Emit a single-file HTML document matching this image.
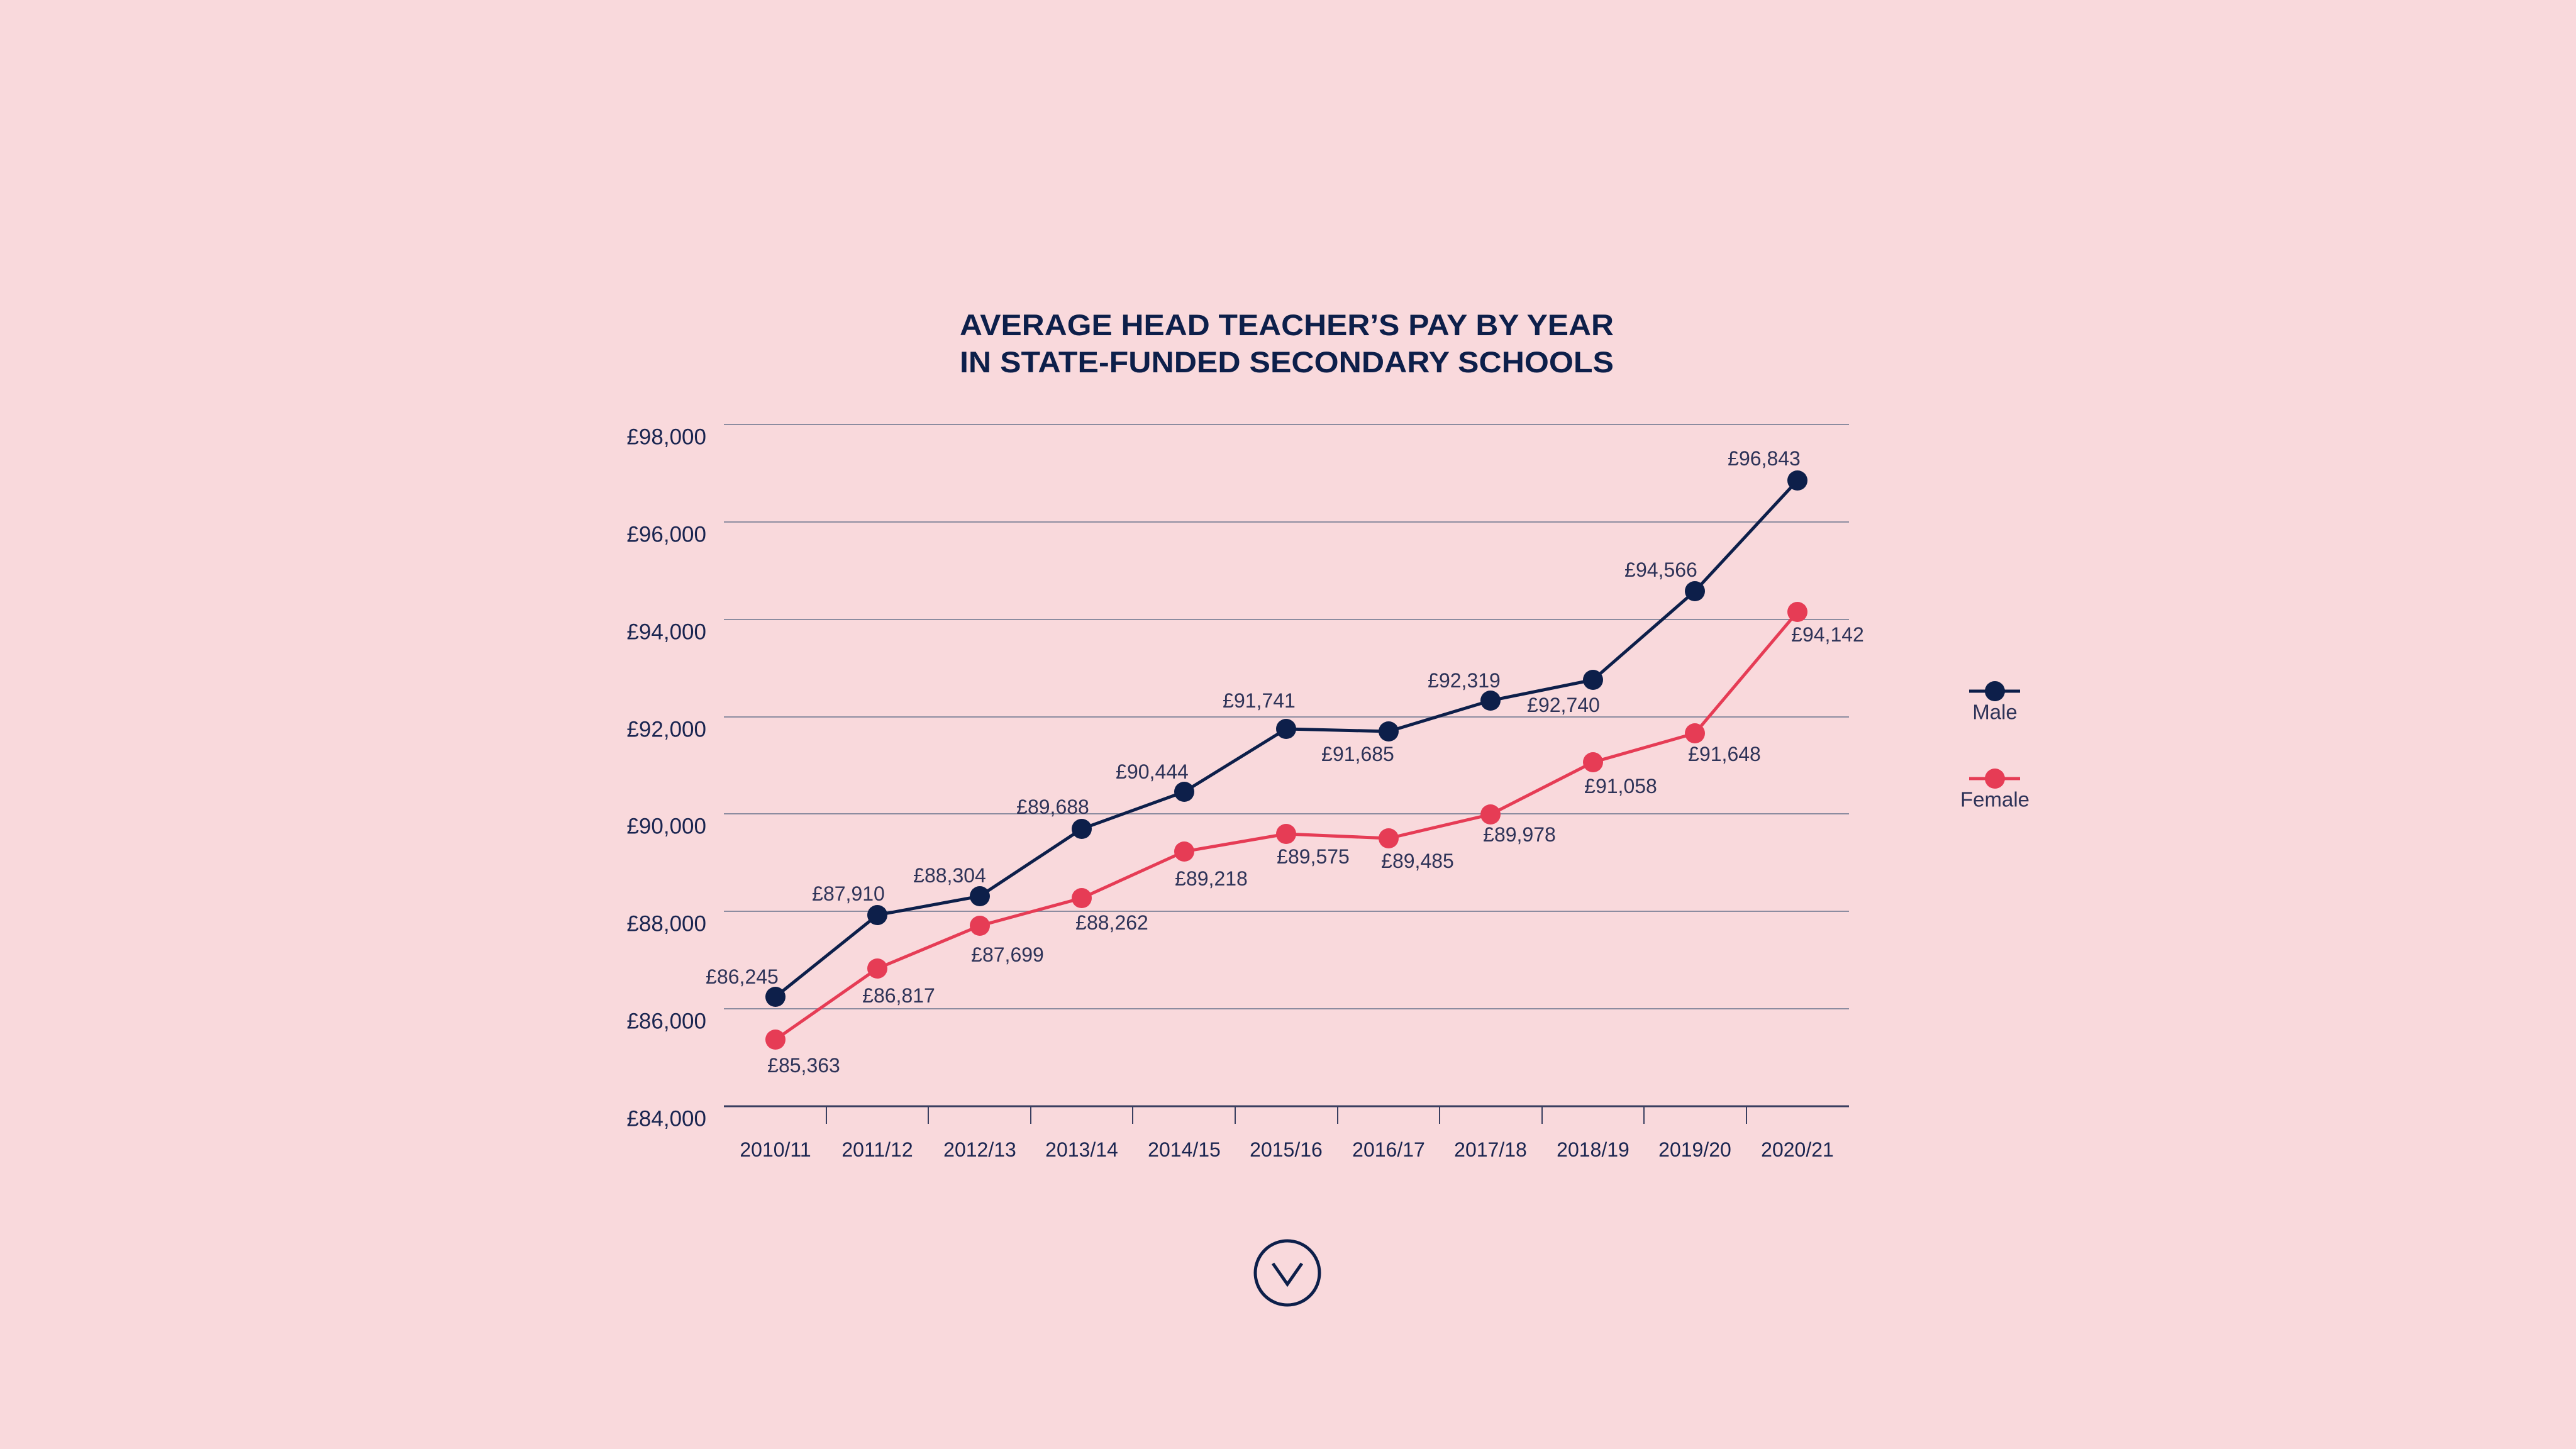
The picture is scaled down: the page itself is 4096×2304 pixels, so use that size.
<!DOCTYPE html>
<html><head><meta charset="utf-8"><style>
html,body{margin:0;padding:0;background:#f9d9dc;}
svg{display:block;}
text{font-family:"Liberation Sans",sans-serif;}
</style></head><body>
<svg width="4096" height="2304" viewBox="0 0 4096 2304" xmlns="http://www.w3.org/2000/svg">
<rect width="4096" height="2304" fill="#f9d9dc"/>
<g fill="#0d1f4a" font-weight="bold" font-size="47" text-anchor="middle">
<text x="2046" y="533" textLength="1040" lengthAdjust="spacingAndGlyphs">AVERAGE HEAD TEACHER’S PAY BY YEAR</text>
<text x="2046" y="592" textLength="1040" lengthAdjust="spacingAndGlyphs">IN STATE-FUNDED SECONDARY SCHOOLS</text>
</g>
<g stroke="#8c8ca0" stroke-width="2">
<line x1="1151" x2="2940" y1="675" y2="675"/>
<line x1="1151" x2="2940" y1="830" y2="830"/>
<line x1="1151" x2="2940" y1="985" y2="985"/>
<line x1="1151" x2="2940" y1="1140" y2="1140"/>
<line x1="1151" x2="2940" y1="1294" y2="1294"/>
<line x1="1151" x2="2940" y1="1449" y2="1449"/>
<line x1="1151" x2="2940" y1="1604" y2="1604"/>
</g>
<line x1="1151" x2="2940" y1="1759" y2="1759" stroke="#3a3f60" stroke-width="3"/>
<g stroke="#3a3f60" stroke-width="2">
<line x1="1314" x2="1314" y1="1759" y2="1787"/><line x1="1476" x2="1476" y1="1759" y2="1787"/>
<line x1="1639" x2="1639" y1="1759" y2="1787"/><line x1="1801" x2="1801" y1="1759" y2="1787"/>
<line x1="1964" x2="1964" y1="1759" y2="1787"/><line x1="2127" x2="2127" y1="1759" y2="1787"/>
<line x1="2289" x2="2289" y1="1759" y2="1787"/><line x1="2452" x2="2452" y1="1759" y2="1787"/>
<line x1="2614" x2="2614" y1="1759" y2="1787"/><line x1="2777" x2="2777" y1="1759" y2="1787"/>
</g>
<g fill="#1a2550" font-size="35" text-anchor="end" dominant-baseline="central">
<text x="1123" y="695">£98,000</text><text x="1123" y="850">£96,000</text>
<text x="1123" y="1005">£94,000</text><text x="1123" y="1160">£92,000</text>
<text x="1123" y="1314">£90,000</text><text x="1123" y="1469">£88,000</text>
<text x="1123" y="1624">£86,000</text><text x="1123" y="1779">£84,000</text>
</g>
<g fill="#1a2550" font-size="32" text-anchor="middle" dominant-baseline="central">
<text x="1233" y="1828">2010/11</text><text x="1395" y="1828">2011/12</text>
<text x="1558" y="1828">2012/13</text><text x="1720" y="1828">2013/14</text>
<text x="1883" y="1828">2014/15</text><text x="2045" y="1828">2015/16</text>
<text x="2208" y="1828">2016/17</text><text x="2370" y="1828">2017/18</text>
<text x="2533" y="1828">2018/19</text><text x="2695" y="1828">2019/20</text>
<text x="2858" y="1828">2020/21</text>
</g>
<polyline fill="none" stroke="#e63c55" stroke-width="5" points="1233,1653 1395,1540 1558,1472 1720,1428 1883,1354 2045,1326 2208,1333 2370,1295 2533,1212 2695,1166 2858,973"/>
<g fill="#e63c55">
<circle cx="1233" cy="1653" r="16"/><circle cx="1395" cy="1540" r="16"/><circle cx="1558" cy="1472" r="16"/>
<circle cx="1720" cy="1428" r="16"/><circle cx="1883" cy="1354" r="16"/><circle cx="2045" cy="1326" r="16"/>
<circle cx="2208" cy="1333" r="16"/><circle cx="2370" cy="1295" r="16"/><circle cx="2533" cy="1212" r="16"/>
<circle cx="2695" cy="1166" r="16"/><circle cx="2858" cy="973" r="16"/>
</g>
<polyline fill="none" stroke="#0d1f4a" stroke-width="5" points="1233,1585 1395,1455 1558,1425 1720,1318 1883,1259 2045,1159 2208,1163 2370,1114 2533,1081 2695,940 2858,764"/>
<g fill="#0d1f4a">
<circle cx="1233" cy="1585" r="16"/><circle cx="1395" cy="1455" r="16"/><circle cx="1558" cy="1425" r="16"/>
<circle cx="1720" cy="1318" r="16"/><circle cx="1883" cy="1259" r="16"/><circle cx="2045" cy="1159" r="16"/>
<circle cx="2208" cy="1163" r="16"/><circle cx="2370" cy="1114" r="16"/><circle cx="2533" cy="1081" r="16"/>
<circle cx="2695" cy="940" r="16"/><circle cx="2858" cy="764" r="16"/>
</g>
<g fill="#2e3358" font-size="32" text-anchor="middle" dominant-baseline="central">
<text x="1180" y="1553">£86,245</text><text x="1349" y="1421">£87,910</text>
<text x="1510" y="1392">£88,304</text><text x="1674" y="1283">£89,688</text>
<text x="1832" y="1227">£90,444</text><text x="2002" y="1114">£91,741</text>
<text x="2159" y="1199">£91,685</text><text x="2328" y="1082">£92,319</text>
<text x="2486" y="1121">£92,740</text><text x="2641" y="906">£94,566</text>
<text x="2805" y="729">£96,843</text>
<text x="1278" y="1694">£85,363</text><text x="1429" y="1583">£86,817</text>
<text x="1602" y="1518">£87,699</text><text x="1768" y="1467">£88,262</text>
<text x="1926" y="1397">£89,218</text><text x="2088" y="1362">£89,575</text>
<text x="2254" y="1369">£89,485</text><text x="2416" y="1327">£89,978</text>
<text x="2577" y="1250">£91,058</text><text x="2742" y="1199">£91,648</text>
<text x="2906" y="1009">£94,142</text>
</g>
<line x1="3131" x2="3212" y1="1099" y2="1099" stroke="#0d1f4a" stroke-width="5"/>
<circle cx="3172" cy="1099" r="16" fill="#0d1f4a"/>
<line x1="3131" x2="3212" y1="1238" y2="1238" stroke="#e63c55" stroke-width="5"/>
<circle cx="3172" cy="1238" r="16" fill="#e63c55"/>
<g fill="#2e3358" font-size="33" text-anchor="middle" dominant-baseline="central">
<text x="3172" y="1132">Male</text><text x="3172" y="1271">Female</text>
</g>
<circle cx="2047" cy="2024" r="51" fill="none" stroke="#0d1f4a" stroke-width="5"/>
<polyline points="2024,2009 2047,2042 2070,2009" fill="none" stroke="#0d1f4a" stroke-width="5"/>
</svg>
</body></html>
